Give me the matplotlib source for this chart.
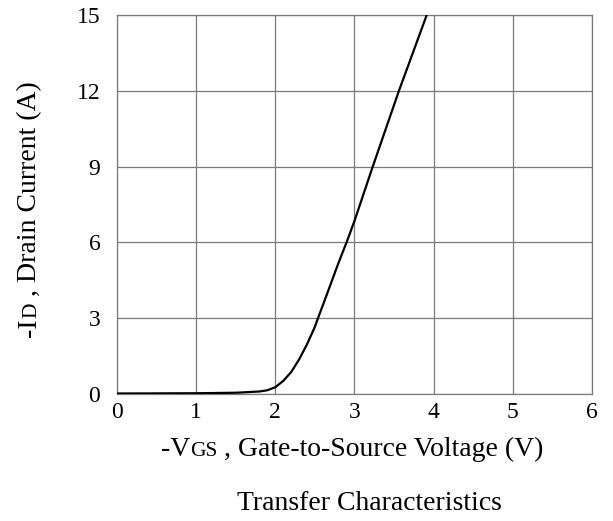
import matplotlib
matplotlib.use("Agg")
import matplotlib.pyplot as plt

plt.rcParams["font.family"] = ["Liberation Serif", "DejaVu Serif"]

# 转移特性曲线数据
vgs = [0.0, 1.0, 1.5, 1.8, 1.9, 2.0, 2.1, 2.2, 2.3, 2.4, 2.5, 2.54, 2.6,
       2.7, 2.8, 2.9, 3.0, 3.23, 3.56, 3.91]
i_d = [0.0, 0.01, 0.03, 0.08, 0.13, 0.25, 0.5, 0.85, 1.35, 1.95, 2.65, 3.0,
       3.5, 4.35, 5.2, 6.0, 6.85, 9.0, 12.0, 15.0]

x_ticks = [0, 1, 2, 3, 4, 5, 6]
y_ticks = [0, 3, 6, 9, 12, 15]

TICK_SIZE = 17
LABEL_SIZE = 20
SUB_SIZE = 15.5


def rich_label(fig, pieces, x, y, vertical=False):
    """把不同字号的文字片段按同一基线拼接，居中放在 (x, y) 像素处。"""
    renderer = fig.canvas.get_renderer()
    texts = []
    pos = 0.0
    for s, size in pieces:
        t = fig.text(0, 0, s, fontsize=size, ha="left", va="baseline",
                     rotation=90 if vertical else 0, rotation_mode="anchor",
                     transform=None)
        ext = t.get_window_extent(renderer)
        length = ext.height if vertical else ext.width
        texts.append((t, pos))
        pos += length
    start = -pos / 2
    for t, off in texts:
        if vertical:
            t.set_position((x, y + start + off))
        else:
            t.set_position((x + start + off, y))


W, H = 613, 521
fig = plt.figure(figsize=(W / 100, H / 100), dpi=100)
ax = fig.add_axes([117 / W, 1 - 393.5 / H, 475 / W, 378 / H])

ax.plot(vgs, i_d, color="black", linewidth=1.6, zorder=3)

ax.set_xlim(0, 6)
ax.set_ylim(0, 15)
ax.set_xticks(x_ticks)
ax.set_yticks(y_ticks)
ax.tick_params(length=0, labelsize=TICK_SIZE)
ax.tick_params(axis="x", pad=6)
ax.tick_params(axis="y", pad=12)
ax.grid(True, color="#7a7a7a", linewidth=0.9)
for spine in ax.spines.values():
    spine.set_color("#7a7a7a")
    spine.set_linewidth(0.9)

# 坐标轴标签，下标用小号字并保持同一基线
rich_label(fig, [("-V", LABEL_SIZE), ("GS", SUB_SIZE),
                 (" , Gate-to-Source Voltage (V)", LABEL_SIZE)],
           352, H - 456)
rich_label(fig, [("-I", LABEL_SIZE), ("D", SUB_SIZE),
                 (" , Drain Current (A)", LABEL_SIZE)],
           36, H - 209, vertical=True)
fig.text(369.5 / W, 1 - 510.5 / H, "Transfer Characteristics", fontsize=LABEL_SIZE,
         ha="center", va="baseline")

fig.savefig("out.png", dpi=100)
